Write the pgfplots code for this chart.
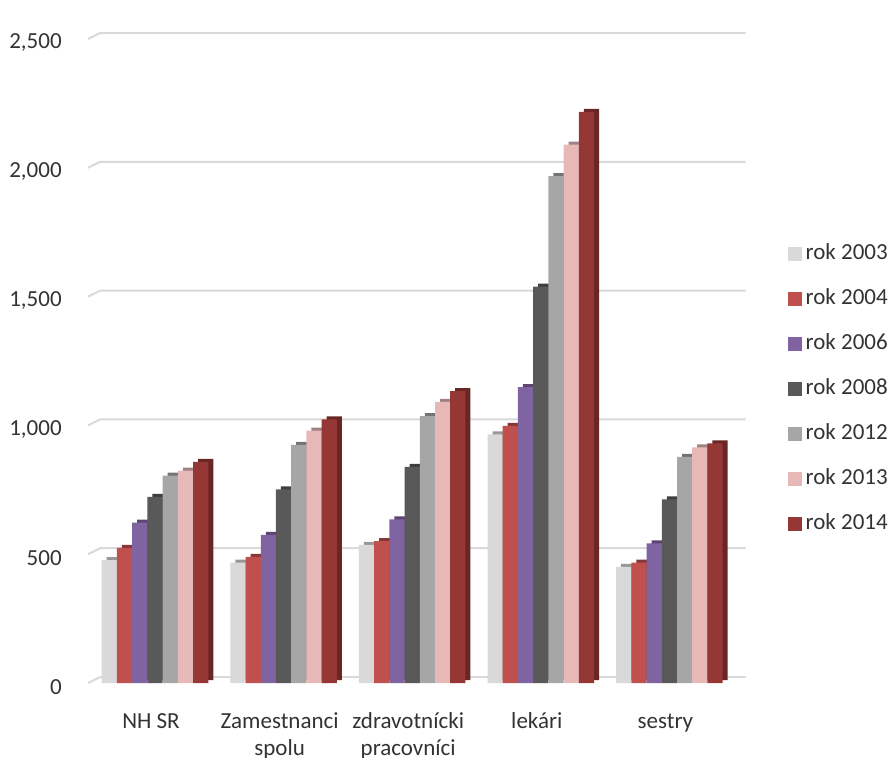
\documentclass[border=0pt]{standalone}
\usepackage{pgfplots}
\usepackage{pgfplotstable}
\pgfplotsset{compat=1.18}
\usepackage{fontspec}
\setmainfont{Carlito}

\definecolor{c03}{HTML}{D9D9D9}
\definecolor{c04}{HTML}{C0504D}
\definecolor{c06}{HTML}{8064A2}
\definecolor{c08}{HTML}{595959}
\definecolor{c12}{HTML}{A6A6A6}
\definecolor{c13}{HTML}{E6B9B8}
\definecolor{c14}{HTML}{953735}
\definecolor{gridc}{HTML}{D9D9D9}
\definecolor{txt}{HTML}{333333}

% strut so every category label starts at the same height
\newcommand\st{\rule{0pt}{9bp}}

% average monthly wage by group and year
\pgfplotstableread{
x y03 y04 y06 y08 y12 y13 y14
0 477 525 623 723 805 824 858
1 467 490 575 752 924 980 1023
2 536 551 635 839 1036 1091 1133
3 965 998 1149 1539 1968 2090 2217
4 451 467 542 713 878 915 930
}\wages

\begin{document}
\begin{tikzpicture}[font=\fontsize{11.5bp}{13.3bp}\selectfont, text=txt]
\path[use as bounding box] (-45.35bp,-37.5bp) rectangle (401.15bp,341.5bp);
\begin{axis}[
  at={(0,0)}, anchor=south west,
  scale only axis, width=321.5bp, height=322bp,
  xmin=-0.5, xmax=4.5, ymin=0, ymax=2500,
  clip=false,
  axis line style={draw=none}, tick style={draw=none},
  major tick length=0pt,
  ytick={0,500,1000,1500,2000,2500},
  /pgf/number format/.cd, 1000 sep={,}, assume math mode=true, /pgfplots/.cd,
  yticklabel style={inner sep=0pt, anchor=east, xshift=-14.3bp, yshift=-2bp},
  xtick={0,1,2,3,4},
  xticklabels={\st NH SR,{\st Zamestnanci\\spolu},{\st zdravotnícki\\pracovníci},\st lekári,\st sestry},
  xticklabel style={align=center, inner sep=0pt, anchor=north, yshift=-13.5bp, xshift=-2bp},
  ybar, bar width=7.61bp,
  legend cell align=left,
  legend image code/.code={\fill[#1] (0bp,-3.5bp) rectangle (7bp,3.5bp);},
  legend style={draw=none, fill=none, at={(1.084,0.4565)}, anchor=west,
    inner sep=0pt, outer sep=0pt, row sep=12bp, column sep=2bp,
    nodes={inner sep=0pt, text height=8bp, text depth=2.5bp}},
]
% back-wall gridlines with their slanted left edge
\pgfplotsinvokeforeach{0,500,1000,1500,2000,2500}{
  \draw[gridc, line width=1bp] (axis cs:-0.52,#1) -- ([shift={(6bp,3bp)}]axis cs:-0.52,#1) -- ([shift={(6bp,3bp)}]axis cs:4.5,#1);
}
% each year: a darker offset copy for the depth faces, then the front face
\addplot[draw=none, fill=c03!70!black, bar shift=-22.83bp, xshift=2.5bp, yshift=1.5bp, forget plot] table[x=x,y=y03]{\wages};
\addplot[draw=none, fill=c03, bar shift=-22.83bp] table[x=x,y=y03]{\wages};
\addplot[draw=none, fill=c04!70!black, bar shift=-15.22bp, xshift=2.5bp, yshift=1.5bp, forget plot] table[x=x,y=y04]{\wages};
\addplot[draw=none, fill=c04, bar shift=-15.22bp] table[x=x,y=y04]{\wages};
\addplot[draw=none, fill=c06!70!black, bar shift=-7.61bp, xshift=2.5bp, yshift=1.5bp, forget plot] table[x=x,y=y06]{\wages};
\addplot[draw=none, fill=c06, bar shift=-7.61bp] table[x=x,y=y06]{\wages};
\addplot[draw=none, fill=c08!70!black, bar shift=0bp, xshift=2.5bp, yshift=1.5bp, forget plot] table[x=x,y=y08]{\wages};
\addplot[draw=none, fill=c08, bar shift=0bp] table[x=x,y=y08]{\wages};
\addplot[draw=none, fill=c12!70!black, bar shift=7.61bp, xshift=2.5bp, yshift=1.5bp, forget plot] table[x=x,y=y12]{\wages};
\addplot[draw=none, fill=c12, bar shift=7.61bp] table[x=x,y=y12]{\wages};
\addplot[draw=none, fill=c13!70!black, bar shift=15.22bp, xshift=2.5bp, yshift=1.5bp, forget plot] table[x=x,y=y13]{\wages};
\addplot[draw=none, fill=c13, bar shift=15.22bp] table[x=x,y=y13]{\wages};
\addplot[draw=none, fill=c14!70!black, bar shift=22.83bp, xshift=2.5bp, yshift=1.5bp, forget plot] table[x=x,y=y14]{\wages};
\addplot[draw=none, fill=c14, bar shift=22.83bp] table[x=x,y=y14]{\wages};
\legend{rok 2003,rok 2004,rok 2006,rok 2008,rok 2012,rok 2013,rok 2014}
\end{axis}
\end{tikzpicture}
\end{document}
